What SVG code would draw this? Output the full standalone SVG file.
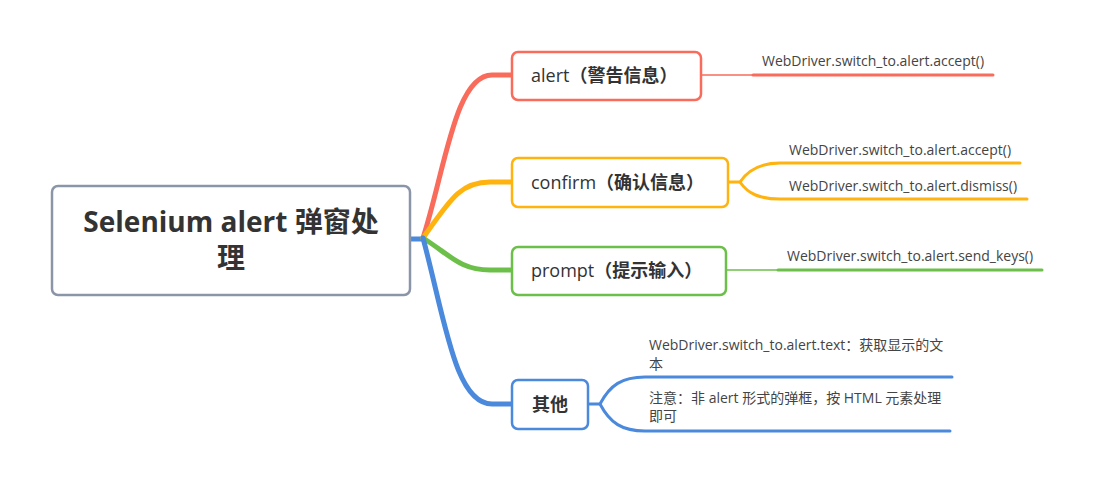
<svg xmlns="http://www.w3.org/2000/svg" width="1093" height="483" viewBox="0 0 1093 483">
<style>
.t{font-family:"Open Sans","Noto Sans CJK SC",sans-serif;}
.root{font-size:28px;font-weight:bold;fill:#333;text-anchor:middle;}
.n{font-size:18px;fill:#333;}
.b{font-weight:bold;}
.s{font-size:14px;fill:#444;}
.box{fill:#fff;stroke-width:2.5;}
.c{fill:none;stroke-linecap:round;}
</style>
<g id="connectors">
<path class="c" d="M410,239 L424,239" stroke="#4a89dc" stroke-width="5"/>
<path class="c" d="M423,238 C445,170 455,75 492,75 L512,75" stroke="#f96b5b" stroke-width="5"/>
<path class="c" d="M423,238 C450,200 460,182 490,182 L512,182" stroke="#ffb30f" stroke-width="5"/>
<path class="c" d="M423,238 C450,255 460,270 490,270 L512,270" stroke="#6cc04a" stroke-width="5"/>
<path class="c" d="M423,238 C445,320 455,404 492,404 L512,404" stroke="#4a89dc" stroke-width="5"/>
<path class="c" d="M701,75 L755,75" stroke="#f96b5b" stroke-width="1.5"/>
<path class="c" d="M753,75 L993,75" stroke="#f96b5b" stroke-width="3"/>
<path class="c" d="M728,182 L740,182 C748,170 760,163 780,163 L1020,163" stroke="#ffb30f" stroke-width="3"/>
<path class="c" d="M740,182 C748,194 760,199 780,199 L1027,199" stroke="#ffb30f" stroke-width="3"/>
<path class="c" d="M726,270 L780,270" stroke="#6cc04a" stroke-width="1.5"/>
<path class="c" d="M778,270 L1042,270" stroke="#6cc04a" stroke-width="3"/>
<path class="c" d="M588,404 L600,404 C610,385 622,377 645,377 L952,377" stroke="#4a89dc" stroke-width="3"/>
<path class="c" d="M600,404 C610,423 622,431 645,431 L950,431" stroke="#4a89dc" stroke-width="3"/>
</g>
<g id="root">
<rect class="box" x="52" y="186" width="358" height="109" rx="6" stroke="#8a96a8" stroke-width="3"/>
<text class="t root" x="231" y="232">Selenium alert 弹窗处</text>
<text class="t root" x="231" y="268">理</text>
</g>
<g id="alert">
<rect class="box" x="512" y="52" width="189" height="48" rx="6" stroke="#f96b5b"/>
<text class="t n" x="531" y="82">alert<tspan class="b">（警告信息）</tspan></text>
</g>
<g id="confirm">
<rect class="box" x="512" y="158" width="216" height="49" rx="6" stroke="#ffb30f"/>
<text class="t n" x="531" y="189">confirm<tspan class="b">（确认信息）</tspan></text>
</g>
<g id="prompt">
<rect class="box" x="512" y="247" width="214" height="48" rx="6" stroke="#6cc04a"/>
<text class="t n" x="531" y="277">prompt<tspan class="b">（提示输入）</tspan></text>
</g>
<g id="other">
<rect class="box" x="512" y="380" width="76" height="49" rx="6" stroke="#4a89dc"/>
<text class="t n b" x="550" y="411" style="text-anchor:middle">其他</text>
</g>
<g id="leaves">
<text class="t s" x="762" y="66">WebDriver.switch_to.alert.accept()</text>
<text class="t s" x="789" y="155">WebDriver.switch_to.alert.accept()</text>
<text class="t s" x="789" y="191">WebDriver.switch_to.alert.dismiss()</text>
<text class="t s" x="787" y="261">WebDriver.switch_to.alert.send_keys()</text>
<text class="t s" x="649" y="350">WebDriver.switch_to.alert.text：获取显示的文</text>
<text class="t s" x="649" y="369">本</text>
<text class="t s" x="649" y="403">注意：非 alert 形式的弹框，按 HTML 元素处理</text>
<text class="t s" x="649" y="421">即可</text>
</g>
</svg>
